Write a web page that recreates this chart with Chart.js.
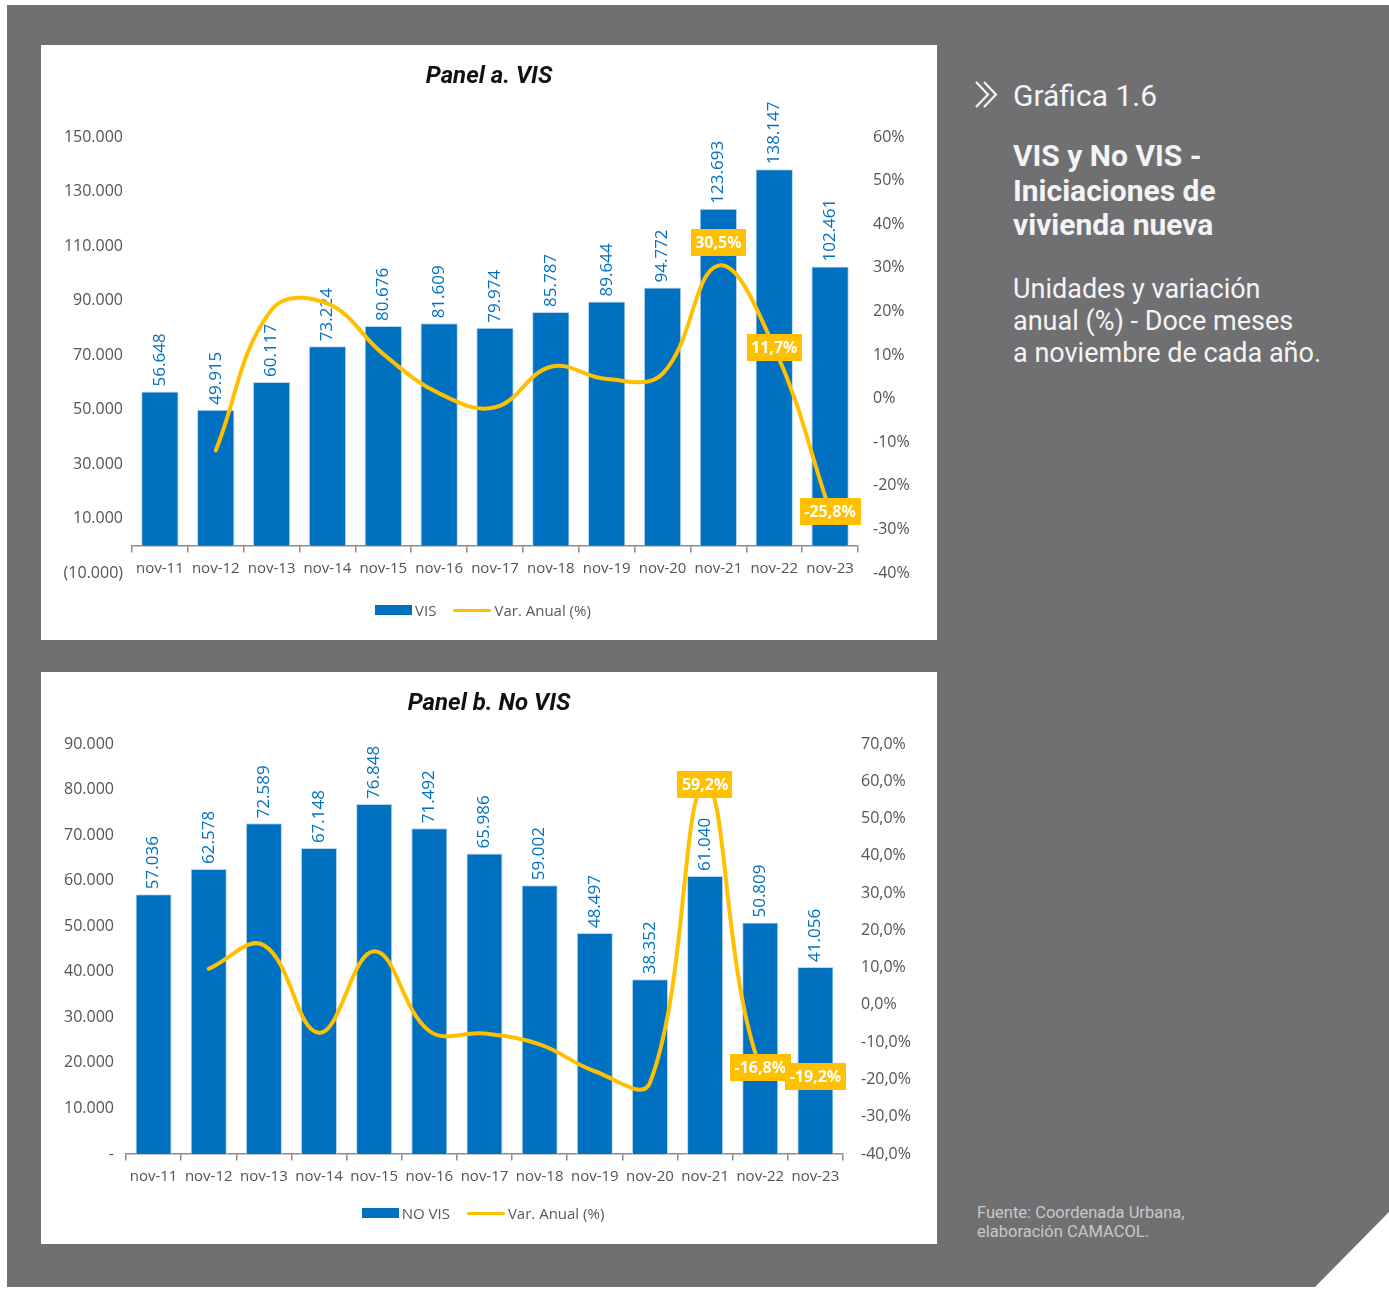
<!DOCTYPE html>
<html><head><meta charset="utf-8">
<script src="https://cdn.jsdelivr.net/npm/chart.js@4.4.0/dist/chart.umd.min.js"></script>
<style>
html,body{margin:0;padding:0;background:#fff;width:1389px;height:1289px;overflow:hidden;}
#bg{position:absolute;left:7px;top:5px;width:1382px;height:1282px;background:#707073;
  clip-path:polygon(0 0,1382px 0,1382px 1207px,1308px 1282px,0 1282px);}
.panel{position:absolute;left:41px;width:896px;background:#fff;}
.panel canvas{position:absolute;left:0;top:0;}
.ptitle{position:absolute;left:0;top:18px;width:100%;text-align:center;font:italic 700 24px/24px Roboto,sans-serif;color:#111;}
.legend{position:absolute;left:-6px;width:100%;height:20px;display:flex;justify-content:center;align-items:center;font:15px/20px 'Open Sans',sans-serif;color:#595959;}
.sw-bar{display:inline-block;width:37px;height:10px;background:#0070C0;margin-right:3px;}
.sw-line{display:inline-block;width:38px;height:3px;border-radius:2px;background:#FFC000;margin-left:17px;margin-right:3px;}
.side{position:absolute;left:1013px;color:#f4f4f4;font-family:Roboto,sans-serif;white-space:nowrap;}
</style></head>
<body>
<div id="bg"></div>

<div class="panel" style="top:45px;height:595px;">
  <canvas id="ca" width="896" height="595"></canvas>
  <div class="ptitle">Panel a. VIS</div>
  <div class="legend" style="top:555px;"><span class="sw-bar"></span>VIS<span class="sw-line"></span>Var. Anual (%)</div>
</div>

<div class="panel" style="top:672px;height:572px;">
  <canvas id="cb" width="896" height="572"></canvas>
  <div class="ptitle">Panel b. No VIS</div>
  <div class="legend" style="top:531px;"><span class="sw-bar"></span>NO VIS<span class="sw-line"></span>Var. Anual (%)</div>
</div>

<svg style="position:absolute;left:973px;top:80px;" width="28" height="30" viewBox="0 0 28 30">
  <polyline points="3,2 15,14.5 3,27" fill="none" stroke="#f4f4f4" stroke-width="2.2"/>
  <polyline points="11,2 23,14.5 11,27" fill="none" stroke="#f4f4f4" stroke-width="2.2"/>
</svg>
<div class="side" style="top:81px;font-size:30px;line-height:30px;">Gráfica 1.6</div>
<div class="side" style="top:139px;font-size:30px;line-height:34.5px;font-weight:700;">VIS y No VIS -<br>Iniciaciones de<br>vivienda nueva</div>
<div class="side" style="top:273px;font-size:27px;line-height:32px;">Unidades y variación<br>anual (%) - Doce meses<br>a noviembre de cada año.</div>
<div class="side" style="left:977px;top:1203px;font-size:16.5px;line-height:19px;color:#c8c8c8;">Fuente: Coordenada Urbana,<br>elaboración CAMACOL.</div>

<script>
// ---------- DATA ----------
const categories = ['nov-11','nov-12','nov-13','nov-14','nov-15','nov-16','nov-17','nov-18','nov-19','nov-20','nov-21','nov-22','nov-23'];

const visUnits = [56648, 49915, 60117, 73224, 80676, 81609, 79974, 85787, 89644, 94772, 123693, 138147, 102461];
const visVar   = [null, -11.9, 20.4, 21.8, 10.2, 1.2, -2.0, 7.3, 4.5, 5.7, 30.5, 11.7, -25.8];
const visVarLabeled = [10, 11, 12];

const noVisUnits = [57036, 62578, 72589, 67148, 76848, 71492, 65986, 59002, 48497, 38352, 61040, 50809, 41056];
const noVisVar   = [null, 9.7, 16.0, -7.5, 14.4, -7.0, -7.7, -10.6, -17.8, -20.9, 59.2, -16.8, -19.2];
const noVisVarLabeled = [10, 11, 12];

const visUnitTicks = [-10000, 10000, 30000, 50000, 70000, 90000, 110000, 130000, 150000];
const visPctTicks  = [-40, -30, -20, -10, 0, 10, 20, 30, 40, 50, 60];
const noVisUnitTicks = [0, 10000, 20000, 30000, 40000, 50000, 60000, 70000, 80000, 90000];
const noVisPctTicks  = [-40, -30, -20, -10, 0, 10, 20, 30, 40, 50, 60, 70];

// ---------- HELPERS ----------
function fmtThousands(v){
  if (v === 0) return '-';
  const s = Math.abs(v).toString().replace(/\B(?=(\d{3})+(?!\d))/g, '.');
  return v < 0 ? '(' + s + ')' : s;
}
function fmtPct(v, dec){ return v.toFixed(dec).replace('.', ',') + '%'; }

const BLUE = '#0070C0', YELLOW = '#FFC000', AXIS_TXT = '#5a524c', AXIS_LINE = '#8c8c8c';

const labelPlugin = {
  id: 'valueLabels',
  afterDatasetDraw(chart, args, opts){
    if (args.index !== 0) return;
    const ctx = chart.ctx, meta = args.meta, data = chart.data.datasets[0].data;
    ctx.save();
    ctx.font = '17px "Open Sans"';
    ctx.fillStyle = BLUE;
    ctx.textAlign = 'left';
    ctx.textBaseline = 'middle';
    meta.data.forEach((el, i) => {
      ctx.save();
      ctx.translate(el.x, el.y - 5);
      ctx.rotate(-Math.PI / 2);
      ctx.fillText(fmtThousands(data[i]), 0, 0);
      ctx.restore();
    });
    ctx.restore();
  },
  afterDatasetsDraw(chart, args, opts){
    const ctx = chart.ctx, meta = chart.getDatasetMeta(1), data = chart.data.datasets[1].data;
    ctx.save();
    ctx.font = 'bold 16px "Open Sans"';
    ctx.textAlign = 'center';
    ctx.textBaseline = 'middle';
    (opts.indices || []).forEach(i => {
      const el = meta.data[i];
      const txt = fmtPct(data[i], 1);
      const w = ctx.measureText(txt).width + 9, h = 27;
      const dy = (opts.shift && opts.shift[i]) || 0;
      const cx = el.x, cy = el.y + dy;
      ctx.fillStyle = YELLOW;
      ctx.fillRect(Math.round(cx - w / 2), Math.round(cy - h / 2), Math.round(w), h);
      ctx.fillStyle = '#ffffff';
      ctx.fillText(txt, cx, cy + 1);
    });
    ctx.restore();
  }
};

function makeChart(id, cfg){
  return new Chart(document.getElementById(id), {
    data: {
      labels: categories,
      datasets: [
        { type: 'bar', label: cfg.barLabel, data: cfg.units, yAxisID: 'y', order: 1,
          backgroundColor: BLUE, borderColor: '#BDD7EE', borderWidth: 1,
          barPercentage: cfg.barPct, categoryPercentage: 1.0 },
        { type: 'line', label: 'Var. Anual (%)', data: cfg.pct, yAxisID: 'y1', order: 0,
          borderColor: YELLOW, borderWidth: 4, pointRadius: 0, tension: 0.4, fill: false,
          borderCapStyle: 'round' }
      ]
    },
    options: {
      responsive: false, animation: false,
      layout: { padding: cfg.padding },
      plugins: { legend: { display: false }, tooltip: { enabled: false }, title: { display: false },
                 valueLabels: { indices: cfg.labeled, shift: cfg.shift } },
      scales: {
        x: { type: 'category', axis: 'x', position: { y: 0 }, offset: true,
             grid: { offset: true, drawOnChartArea: false, drawTicks: true, tickLength: 6, color: AXIS_LINE, lineWidth: 1.5 },
             border: { display: true, color: AXIS_LINE, width: 1.5 },
             ticks: { color: AXIS_TXT, font: { family: 'Open Sans', size: 15 }, padding: 8, maxRotation: 0, autoSkip: false },
             afterFit(s){ s.height = 0; } },
        y: { type: 'linear', position: 'left', min: cfg.uTicks[0], max: cfg.uTicks[cfg.uTicks.length - 1],
             grid: { display: false, drawTicks: false }, border: { display: false },
             ticks: { color: AXIS_TXT, font: { family: 'Open Sans', size: 16 }, padding: cfg.lPad, callback: v => fmtThousands(v) },
             afterBuildTicks(s){ s.ticks = cfg.uTicks.map(v => ({ value: v })); },
             afterFit(s){ s.width = cfg.lWidth; } },
        y1: { type: 'linear', position: 'right', min: cfg.pTicks[0], max: cfg.pTicks[cfg.pTicks.length - 1],
             grid: { display: false, drawTicks: false }, border: { display: false },
             ticks: { color: AXIS_TXT, font: { family: 'Open Sans', size: 16 }, padding: cfg.rPad, callback: v => fmtPct(v, cfg.pctDec) },
             afterBuildTicks(s){ s.ticks = cfg.pTicks.map(v => ({ value: v })); },
             afterFit(s){ s.width = cfg.rWidth; } }
      }
    },
    plugins: [labelPlugin]
  });
}

makeChart('ca', {
  barLabel: 'VIS', units: visUnits, pct: visVar, labeled: visVarLabeled, shift: {10: -23},
  uTicks: visUnitTicks, pTicks: visPctTicks, pctDec: 0, barPct: 0.67,
  padding: { left: 0, right: 0, top: 92, bottom: 67 }, lWidth: 91, rWidth: 79, lPad: 9, rPad: 15
});
makeChart('cb', {
  barLabel: 'NO VIS', units: noVisUnits, pct: noVisVar, labeled: noVisVarLabeled, shift: {},
  uTicks: noVisUnitTicks, pTicks: noVisPctTicks, pctDec: 1, barPct: 0.655,
  padding: { left: 0, right: 0, top: 72, bottom: 90 }, lWidth: 85, rWidth: 94, lPad: 12, rPad: 18
});
</script>
</body></html>
